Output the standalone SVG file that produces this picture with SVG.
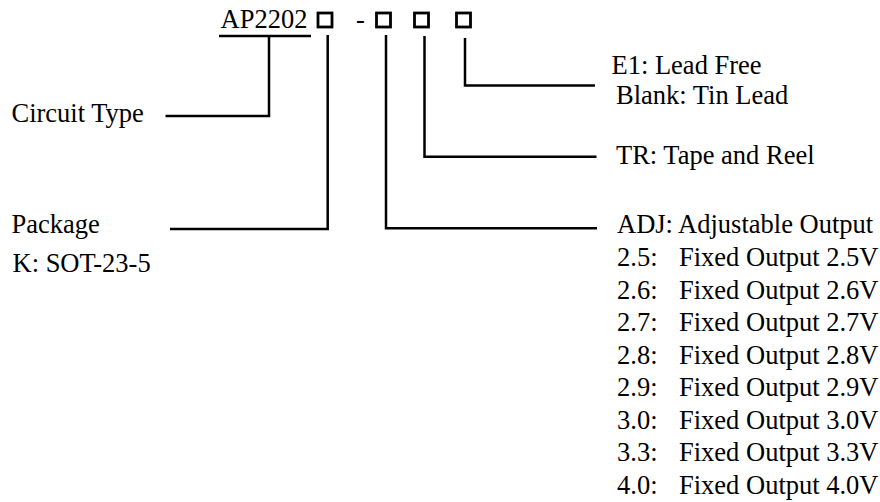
<svg xmlns="http://www.w3.org/2000/svg" width="880" height="502" viewBox="0 0 880 502">
<style>
text{font-family:"Liberation Serif","Times New Roman",serif;font-size:26.5px;fill:#000}
.ln{fill:none;stroke:#000;stroke-width:2.5}
.sq{fill:none;stroke:#000;stroke-width:2.8}
</style>
<rect width="880" height="502" fill="#fff"/>
<g id="part-number">
<text x="220.5" y="28">AP2202</text>
<rect class="sq" x="318" y="13" width="14" height="14"/>
<text x="356" y="28">-</text>
<rect class="sq" x="376.5" y="13" width="14" height="14"/>
<rect class="sq" x="414.5" y="13" width="14" height="14"/>
<rect class="sq" x="456.5" y="13" width="14" height="14"/>
</g>
<g id="circuit-type"><text x="11.5" y="122">Circuit Type</text></g>
<g id="package"><text x="11.5" y="233">Package</text><text x="12.5" y="272">K: SOT-23-5</text></g>
<g id="lead"><text x="611.5" y="73.5">E1: Lead Free</text><text x="616" y="103.5">Blank: Tin Lead</text></g>
<g id="tape"><text x="616" y="164">TR: Tape and Reel</text></g>
<g id="output">
<text x="617" y="233">ADJ: Adjustable Output</text>
<text x="617" y="266">2.5:</text><text x="679" y="266">Fixed Output 2.5V</text>
<text x="617" y="298.5">2.6:</text><text x="679" y="298.5">Fixed Output 2.6V</text>
<text x="617" y="331">2.7:</text><text x="679" y="331">Fixed Output 2.7V</text>
<text x="617" y="363.5">2.8:</text><text x="679" y="363.5">Fixed Output 2.8V</text>
<text x="617" y="396">2.9:</text><text x="679" y="396">Fixed Output 2.9V</text>
<text x="617" y="428.5">3.0:</text><text x="679" y="428.5">Fixed Output 3.0V</text>
<text x="617" y="461">3.3:</text><text x="679" y="461">Fixed Output 3.3V</text>
<text x="617" y="493.5">4.0:</text><text x="679" y="493.5">Fixed Output 4.0V</text>
</g>
<g id="connectors">
<path class="ln" d="M219 36H311"/>
<path class="ln" d="M269 36V116H165.5"/>
<path class="ln" d="M327.7 35V229H170"/>
<path class="ln" d="M386 35V228.3H597"/>
<path class="ln" d="M424.5 36V156.7H596.5"/>
<path class="ln" d="M465 38V85.5H595"/>
</g>
</svg>
